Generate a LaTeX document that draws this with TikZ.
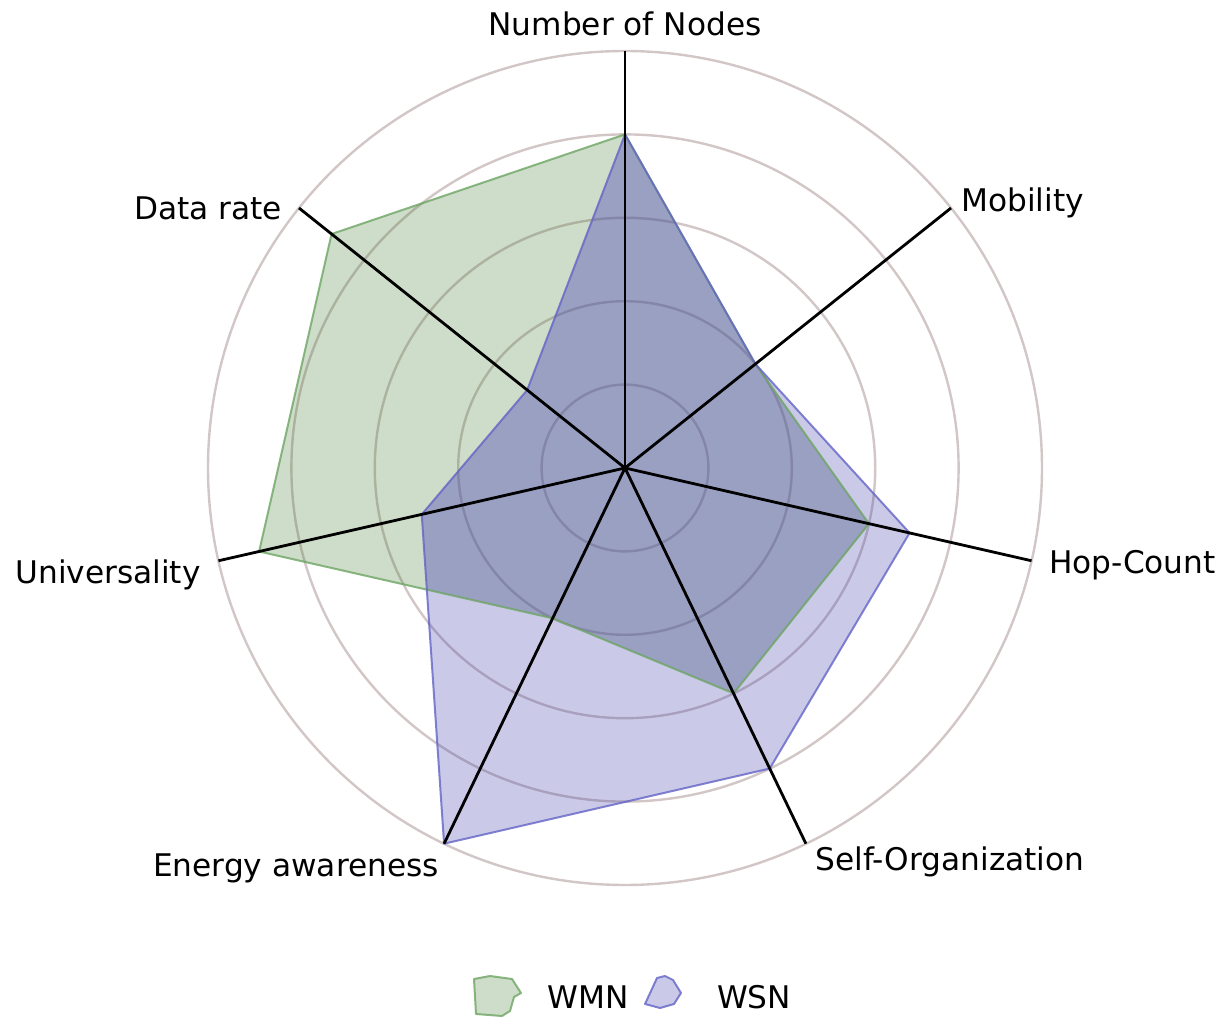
\documentclass[tikz,border=0pt]{standalone}
\usepackage{fontspec}
\setmainfont{DejaVu Sans}
\definecolor{ringc}{RGB}{210,198,198}
\definecolor{wmnc}{RGB}{60,120,40}
\definecolor{wmnedge}{RGB}{110,165,100}
\definecolor{wsnc}{RGB}{60,60,170}
\definecolor{wsnedge}{RGB}{100,100,200}
\definecolor{overc}{RGB}{100,90,200}
\begin{document}
\begin{tikzpicture}[x=0.5pt,y=0.5pt,
  ring/.style={draw=ringc, line width=1.2pt},
  axisline/.style={draw=black, line width=1.4pt},
  lab/.style={font=\fontsize{15.6}{18}\selectfont, inner sep=0pt},
  wmnfill/.style={fill=wmnc, fill opacity=0.25},
  wsnfill/.style={fill=wsnc, fill opacity=0.27},
  wmnline/.style={draw=wmnedge, line width=1pt, draw opacity=0.8, line join=round},
  wsnline/.style={draw=wsnedge, line width=1pt, draw opacity=0.8, line join=round},
  overfill/.style={fill=overc, fill opacity=0.2}]
\useasboundingbox (0,0) rectangle (1227,1018);
\coordinate (c) at (625,550);
\foreach \k in {1,...,5} \draw[ring] (c) circle[radius=83.4*\k];
\begin{scope}[shift={(625,550)}]
  \coordinate (e1) at (90:417);
  \coordinate (e2) at (38.571:417);
  \coordinate (e3) at (-12.857:417);
  \coordinate (e4) at (-64.286:417);
  \coordinate (e5) at (-115.714:417);
  \coordinate (e6) at (-167.143:417);
  \coordinate (e7) at (141.429:417);
  % WMN polygon
  \fill[wmnfill] (90:333.6) -- (38.571:166.8) -- (-12.857:250.2) -- (-64.286:250.2) -- (-115.714:166.8) -- (-167.143:375.3) -- (141.429:375.3) -- cycle;
  % WSN polygon
  \fill[wsnfill] (90:333.6) -- (38.571:166.8) -- (-12.857:291.9) -- (-64.286:333.6) -- (-115.714:417) -- (-167.143:208.5) -- (141.429:125.1) -- cycle;
  % overlap darkening
  \begin{scope}
    \clip (90:333.6) -- (38.571:166.8) -- (-12.857:250.2) -- (-64.286:250.2) -- (-115.714:166.8) -- (-167.143:375.3) -- (141.429:375.3) -- cycle;
    \fill[overfill] (90:333.6) -- (38.571:166.8) -- (-12.857:291.9) -- (-64.286:333.6) -- (-115.714:417) -- (-167.143:208.5) -- (141.429:125.1) -- cycle;
  \end{scope}
  \draw[wmnline] (90:333.6) -- (38.571:166.8) -- (-12.857:250.2) -- (-64.286:250.2) -- (-115.714:166.8) -- (-167.143:375.3) -- (141.429:375.3) -- cycle;
  \draw[wsnline] (90:333.6) -- (38.571:166.8) -- (-12.857:291.9) -- (-64.286:333.6) -- (-115.714:417) -- (-167.143:208.5) -- (141.429:125.1) -- cycle;
\end{scope}
\foreach \e in {e1,e2,e3,e4,e5,e6,e7} \draw[axisline] (c) -- (\e);
% labels
\node[lab] (l1) at (625,994) {Number of Nodes};
\node[lab, anchor=west] (l2) at (961,815) {Mobility};
\node[lab, anchor=west] (l3) at (1049,453) {Hop-Count};
\node[lab] (l4) at (950,156) {Self-Organization};
\node[lab] (l5) at (296,150) {Energy awareness};
\node[lab] (l6) at (108,443) {Universality};
\node[lab] (l7) at (208,810) {Data rate};
% legend
\filldraw[wmnfill, wmnline] (474,39) -- (490,42) -- (512,39) -- (521,25) -- (514,21) -- (510,7) -- (502,2) -- (476,4) -- cycle;
\node[lab] (lw1) at (588,21) {WMN};
\filldraw[wsnfill, wsnline] (645,14) -- (657,40) -- (665,42) -- (673,38) -- (681,25) -- (674,14) -- (660,10) -- cycle;
\node[lab] (lw2) at (754,21) {WSN};
\end{tikzpicture}
\end{document}
